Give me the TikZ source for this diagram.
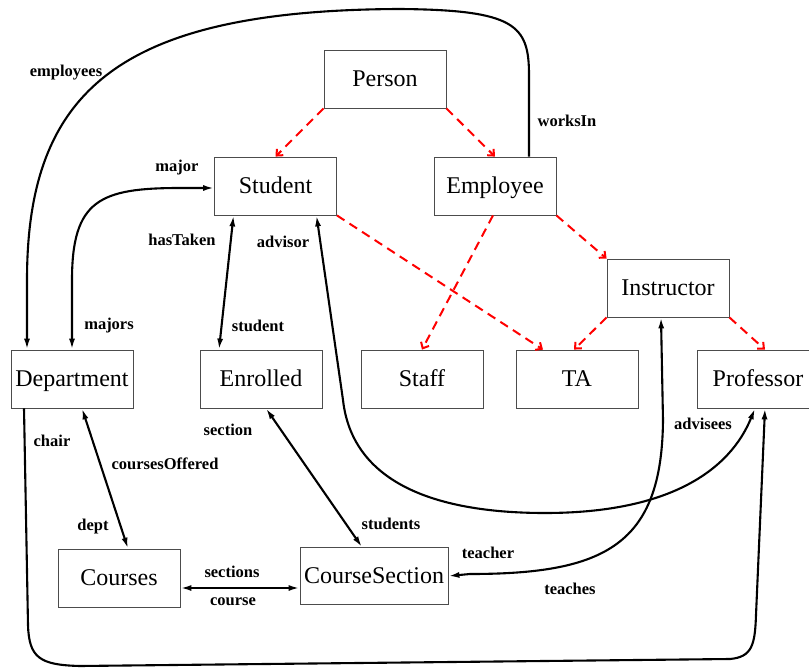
\documentclass[tikz,border=0pt]{standalone}
\usepackage{fontspec}
\setmainfont{Liberation Serif}
\usetikzlibrary{arrows.meta}

\begin{document}
\begin{tikzpicture}[
  x=1pt, y=-1pt,
  cls/.style={draw=black!70, line width=0.8pt, minimum width=122pt, minimum height=58pt, inner sep=4pt,
    text height=16pt, text depth=2pt, font=\fontsize{24}{28}\selectfont},
  isa/.style={-{Straight Barb[length=5pt,width=9pt]}, red, line width=2pt, dash pattern=on 9pt off 6pt},
  rel/.style={line width=2.1pt, {Latex[length=11pt,width=6pt]}-{Latex[length=11pt,width=6pt]}},
  one/.style={line width=2.1pt, -{Latex[length=11pt,width=6pt]}},
  lbl/.style={font=\fontsize{16.5}{20}\selectfont\bfseries, inner sep=0pt}
]
\useasboundingbox (0,0) rectangle (809,669);

\node[cls] (person) at (385,79) {Person};
\node[cls] (student) at (275.5,186) {Student};
\node[cls] (employee) at (495,186) {Employee};
\node[cls] (instructor) at (668,288) {Instructor};
\node[cls] (department) at (72,379) {Department};
\node[cls] (enrolled) at (261,379) {Enrolled};
\node[cls] (staff) at (422,379) {Staff};
\node[cls] (ta) at (577,379) {TA};
\node[cls] (professor) at (758,379) {Professor};
\node[cls] (courses) at (119,578) {Courses};
\node[cls, minimum width=148pt, minimum height=57pt] (coursesection) at (374,576) {CourseSection};

\draw[isa] (person.south west) -- (student.north);
\draw[isa] (person.south east) -- (employee.north);
\draw[isa] ([xshift=-2pt]employee.south) -- (staff.north);
\draw[isa] (employee.south east) -- (instructor.north west);
\draw[isa] (student.south east) -- ([xshift=-34pt]ta.north);
\draw[isa] (instructor.south west) -- ([xshift=-3pt]ta.north);
\draw[isa] (instructor.south east) -- ([xshift=7pt]professor.north);

\draw[one] ([xshift=34pt]employee.north) -- (529,75) .. controls (529,25) and (515,10) .. (400,9)
  .. controls (120,10) and (27,90) .. (27,280) -- ([xshift=-45pt]department.north);
\draw[rel] (department.north) -- (72,280) .. controls (72,200) and (100,188) .. (180,188) -- ([yshift=-2pt]student.west);
\draw[rel] ([xshift=-42pt]student.south) -- ([xshift=-42pt]enrolled.north);
\draw[rel] ([xshift=41pt]student.south) -- (343,400) .. controls (352,480) and (430,513) .. (545,513)
  .. controls (670,513) and (730,470) .. ([xshift=-3pt]professor.south);
\draw[rel] ([xshift=-7pt]instructor.south) -- (663,420) .. controls (662,545) and (605,574) .. (470,574) -- (coursesection.east);
\draw[one] ([xshift=-48pt]department.south) -- (28,625) .. controls (29,658) and (40,665) .. (80,666)
  -- (730,659) .. controls (752,657) and (755,645) .. (756,615) -- ([xshift=7pt]professor.south);
\draw[rel] ([xshift=10pt]department.south) -- ([xshift=9pt]courses.north);
\draw[rel] ([xshift=5pt]enrolled.south) -- ([xshift=-12pt]coursesection.north);
\draw[rel] ([yshift=-10pt]courses.east) -- ([yshift=-12pt]coursesection.west);

\node[lbl] (l-employees) at (66,73) {employees};
\node[lbl] (l-worksin) at (567,121) {worksIn};
\node[lbl] (l-major) at (177,168) {major};
\node[lbl] (l-majors) at (109,326) {majors};
\node[lbl] (l-hastaken) at (182,240) {hasTaken};
\node[lbl] (l-student) at (258,326) {student};
\node[lbl] (l-advisor) at (283,242) {advisor};
\node[lbl] (l-advisees) at (703,424) {advisees};
\node[lbl] (l-chair) at (52,441) {chair};
\node[lbl] (l-coursesoffered) at (165,464) {coursesOffered};
\node[lbl] (l-dept) at (93,527) {dept};
\node[lbl] (l-section) at (228,430) {section};
\node[lbl] (l-students) at (391,524) {students};
\node[lbl] (l-sections) at (232,572) {sections};
\node[lbl] (l-course) at (233,602) {course};
\node[lbl] (l-teacher) at (488,553) {teacher};
\node[lbl] (l-teaches) at (570,589) {teaches};
\end{tikzpicture}
\end{document}
